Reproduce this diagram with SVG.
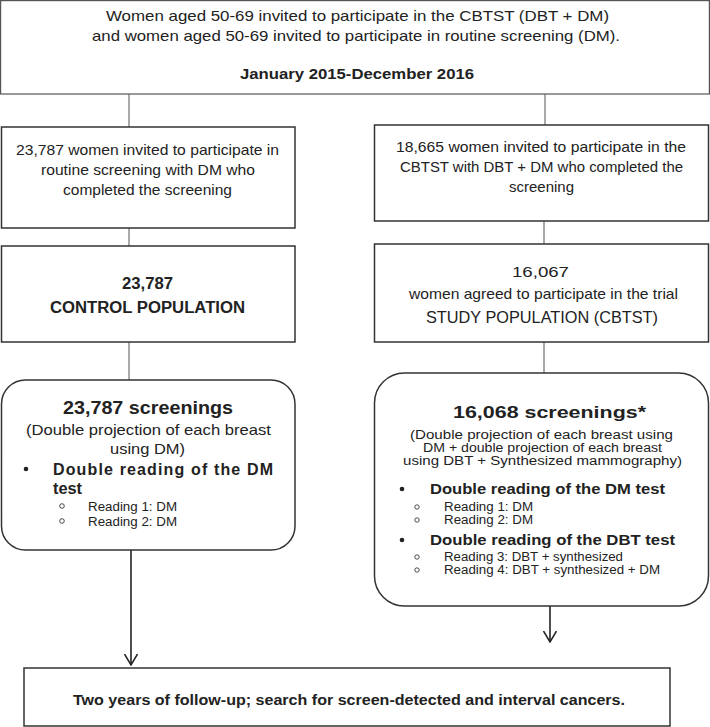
<svg xmlns="http://www.w3.org/2000/svg" width="710" height="727" viewBox="0 0 710 727">
<style>
.box{fill:#fff;stroke:#333;stroke-width:1.5}
.topbox{fill:#fff;stroke:#555;stroke-width:1.2}
.ln{stroke:#555;stroke-width:1;fill:none}
.arr{stroke:#222;stroke-width:1.6;fill:none}
text{font-family:"Liberation Sans",Arial,sans-serif;fill:#222}
.b{font-weight:bold}
</style>
<defs>
<marker id="ah" viewBox="0 0 12 14" refX="11" refY="7" markerWidth="12" markerHeight="14" markerUnits="userSpaceOnUse" orient="auto">
<path d="M0,0.5 L11,7 L0,13.5" fill="none" stroke="#222" stroke-width="1.5"/>
</marker>
</defs>
<g id="connectors">
<line class="ln" x1="129" y1="94" x2="129" y2="127"/>
<line class="ln" x1="545" y1="94" x2="545" y2="125"/>
<line class="ln" x1="129" y1="228" x2="129" y2="246"/>
<line class="ln" x1="544" y1="221" x2="544" y2="244"/>
<line class="ln" x1="129" y1="342" x2="129" y2="380"/>
<line class="ln" x1="544" y1="342" x2="544" y2="373"/>
<path class="arr" d="M131,549 V665" marker-end="url(#ah)"/>
<path class="arr" d="M550,606 V642" marker-end="url(#ah)"/>
</g>
<g id="top">
<rect class="topbox" x="0.6" y="0.6" width="708.8" height="93.4"/>
<text x="106" y="21" font-size="15" textLength="503" lengthAdjust="spacingAndGlyphs">Women aged 50-69 invited to participate in the CBTST (DBT + DM)</text>
<text x="92" y="41" font-size="15" textLength="528" lengthAdjust="spacingAndGlyphs">and women aged 50-69 invited to participate in routine screening (DM).</text>
<text class="b" x="240" y="79" font-size="15" textLength="234" lengthAdjust="spacingAndGlyphs">January 2015-December 2016</text>
</g>
<g id="left1">
<rect class="box" x="1.5" y="127" width="293.5" height="101"/>
<text x="16" y="155" font-size="15" textLength="263" lengthAdjust="spacingAndGlyphs">23,787 women invited to participate in</text>
<text x="41" y="175" font-size="15" textLength="214" lengthAdjust="spacingAndGlyphs">routine screening with DM who</text>
<text x="63" y="195" font-size="15" textLength="169" lengthAdjust="spacingAndGlyphs">completed the screening</text>
</g>
<g id="left2">
<rect class="box" x="1.5" y="246" width="293.5" height="96"/>
<text class="b" x="122" y="289" font-size="16" textLength="51" lengthAdjust="spacingAndGlyphs">23,787</text>
<text class="b" x="50" y="313" font-size="16" textLength="195" lengthAdjust="spacingAndGlyphs">CONTROL POPULATION</text>
</g>
<g id="right1">
<rect class="box" x="374.5" y="125" width="334" height="96"/>
<text x="396" y="152" font-size="15" textLength="290" lengthAdjust="spacingAndGlyphs">18,665 women invited to participate in the</text>
<text x="400" y="172" font-size="15" textLength="283" lengthAdjust="spacingAndGlyphs">CBTST with DBT + DM who completed the</text>
<text x="509" y="192" font-size="15" textLength="65" lengthAdjust="spacingAndGlyphs">screening</text>
</g>
<g id="right2">
<rect class="box" x="374.5" y="244" width="334" height="98"/>
<text x="512" y="277" font-size="15" textLength="57" lengthAdjust="spacingAndGlyphs">16,067</text>
<text x="409" y="299" font-size="15" textLength="269" lengthAdjust="spacingAndGlyphs">women agreed to participate in the trial</text>
<text x="426" y="323" font-size="17" textLength="232" lengthAdjust="spacingAndGlyphs">STUDY POPULATION (CBTST)</text>
</g>
<g id="left3">
<rect class="box" x="1.5" y="380" width="293.5" height="170" rx="24"/>
<text class="b" x="63" y="414" font-size="18" textLength="170" lengthAdjust="spacingAndGlyphs">23,787 screenings</text>
<text x="26" y="435" font-size="15" textLength="245" lengthAdjust="spacingAndGlyphs">(Double projection of each breast</text>
<text x="110" y="454" font-size="15" textLength="75" lengthAdjust="spacingAndGlyphs">using DM)</text>
<circle cx="26" cy="469" r="2.3" fill="#222"/>
<text class="b" x="53" y="475" font-size="16" textLength="220" lengthAdjust="spacing">Double reading of the DM</text>
<text class="b" x="53" y="494" font-size="16" textLength="29" lengthAdjust="spacingAndGlyphs">test</text>
<circle cx="62" cy="506" r="2.3" fill="none" stroke="#222" stroke-width="0.8"/>
<text x="88" y="511" font-size="12.5" textLength="89" lengthAdjust="spacingAndGlyphs">Reading 1: DM</text>
<circle cx="62" cy="521" r="2.3" fill="none" stroke="#222" stroke-width="0.8"/>
<text x="88" y="526" font-size="12.5" textLength="89" lengthAdjust="spacingAndGlyphs">Reading 2: DM</text>
</g>
<g id="right3">
<rect class="box" x="374.5" y="373" width="334" height="233" rx="30"/>
<text class="b" x="453" y="418" font-size="17" textLength="193" lengthAdjust="spacingAndGlyphs">16,068 screenings*</text>
<text x="410" y="439" font-size="12.5" textLength="263" lengthAdjust="spacingAndGlyphs">(Double projection of each breast using</text>
<text x="423" y="452" font-size="12.5" textLength="239" lengthAdjust="spacingAndGlyphs">DM + double projection of each breast</text>
<text x="403" y="465" font-size="12.5" textLength="279" lengthAdjust="spacingAndGlyphs">using DBT + Synthesized mammography)</text>
<circle cx="402" cy="489" r="2.3" fill="#222"/>
<text class="b" x="430" y="494" font-size="15" textLength="235" lengthAdjust="spacingAndGlyphs">Double reading of the DM test</text>
<circle cx="417" cy="507" r="2.2" fill="none" stroke="#222" stroke-width="0.8"/>
<text x="444" y="511" font-size="12" textLength="89" lengthAdjust="spacingAndGlyphs">Reading 1: DM</text>
<circle cx="417" cy="520" r="2.2" fill="none" stroke="#222" stroke-width="0.8"/>
<text x="444" y="524" font-size="12" textLength="89" lengthAdjust="spacingAndGlyphs">Reading 2: DM</text>
<circle cx="402" cy="540" r="2.3" fill="#222"/>
<text class="b" x="430" y="545" font-size="15" textLength="245" lengthAdjust="spacingAndGlyphs">Double reading of the DBT test</text>
<circle cx="417" cy="557" r="2.2" fill="none" stroke="#222" stroke-width="0.8"/>
<text x="444" y="561" font-size="12" textLength="179" lengthAdjust="spacingAndGlyphs">Reading 3: DBT + synthesized</text>
<circle cx="417" cy="570" r="2.2" fill="none" stroke="#222" stroke-width="0.8"/>
<text x="444" y="574" font-size="12" textLength="216" lengthAdjust="spacingAndGlyphs">Reading 4: DBT + synthesized + DM</text>
</g>
<g id="bottom">
<rect class="box" x="24" y="668" width="646" height="58"/>
<text class="b" x="73" y="705" font-size="14" textLength="552" lengthAdjust="spacingAndGlyphs">Two years of follow-up; search for screen-detected and interval cancers.</text>
</g>
</svg>
